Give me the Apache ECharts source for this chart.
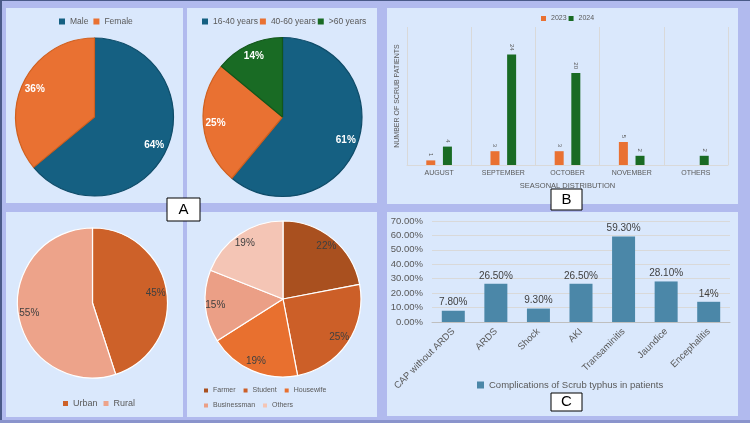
<!DOCTYPE html>
<html>
<head>
<meta charset="utf-8">
<script src="https://cdn.jsdelivr.net/npm/echarts@6/dist/echarts.min.js"></script>
<style>
  html, body { margin: 0; padding: 0; background: #b1baee; }
  #chart { width: 750px; height: 423px; }
</style>
</head>
<body>
<div id="chart"></div>
<script>
// 数据
const sexNames = ['Male', 'Female'];
const sexValues = [64, 36];
const ageNames = ['16-40 years', '40-60 years', '>60 years'];
const ageValues = [61, 25, 14];
const months = ['AUGUST', 'SEPTEMBER', 'OCTOBER', 'NOVEMBER', 'OTHERS'];
const cases2023 = [1, 3, 3, 5, null];
const cases2024 = [4, 24, 20, 2, 2];
const areaNames = ['Urban', 'Rural'];
const areaValues = [45, 55];
const jobNames = ['Farmer', 'Student', 'Housewife', 'Businessman', 'Others'];
const jobValues = [22, 25, 19, 15, 19];
const complications = ['CAP without ARDS', 'ARDS', 'Shock', 'AKI', 'Transaminitis', 'Jaundice', 'Encephalitis'];
const complicationPct = [7.8, 26.5, 9.3, 26.5, 59.3, 28.1, 14];
const complicationLabels = ['7.80%', '26.50%', '9.30%', '26.50%', '59.30%', '28.10%', '14%'];

const FONT = 'Liberation Sans';
const GREY = '#595959';

// 饼图：主体 + 标签层（标签放在外侧约 0.8 半径处）
function makePie(names, values, colors, borders, center, r, r0, labelStyle) {
    const main = {
        type: 'pie',
        center: center,
        radius: [0, r],
        startAngle: 90,
        silent: true,
        label: { show: false },
        labelLine: { show: false },
        data: names.map((n, i) => ({
            name: n,
            value: values[i],
            itemStyle: { color: colors[i], borderColor: borders[i], borderWidth: 1.2 }
        }))
    };
    const labels = {
        type: 'pie',
        center: center,
        radius: [r0, r],
        startAngle: 90,
        silent: true,
        z: 5,
        itemStyle: { color: 'rgba(0,0,0,0)', borderWidth: 0 },
        label: Object.assign({ show: true, position: 'inside', formatter: p => p.value + '%' }, labelStyle),
        labelLine: { show: false },
        data: names.map((n, i) => ({ name: '#' + n, value: values[i] }))
    };
    return [main, labels];
}

function panel(x, y, w, h) {
    return { type: 'rect', z: -10, shape: { x: x, y: y, width: w, height: h }, style: { fill: '#dae8fc' } };
}

function tagBox(x, y, w, h, txt) {
    return {
        type: 'group', z: 100,
        children: [
            { type: 'rect', z: 100, shape: { x: x, y: y, width: w, height: h }, style: { fill: '#fff', stroke: '#000', lineWidth: 1 } },
            { type: 'text', z: 101, style: { x: x + w / 2, y: y + h / 2, text: txt, align: 'center', verticalAlign: 'middle', font: '15px ' + FONT, fill: '#000' } }
        ]
    };
}

// 图例通用样式
function legendCfg(data, left, top, extra, text) {
    return Object.assign({
        data: data, left: left, top: top, padding: 0, icon: 'rect',
        itemStyle: { borderWidth: 0 },
        textStyle: Object.assign({ color: GREY }, text)
    }, extra);
}

const chart = echarts.init(document.getElementById('chart'));

const whiteLabel = { color: '#fff', fontWeight: 'bold', fontSize: 10 };
const darkLabel = { color: '#404040', fontSize: 10 };

const option = {
    animation: false,
    textStyle: { fontFamily: FONT },
    graphic: [
        { type: 'rect', z: -20, shape: { x: 0, y: 0, width: 2, height: 423 }, style: { fill: '#4a5a88' } },
        { type: 'rect', z: -20, shape: { x: 0, y: 0, width: 750, height: 1 }, style: { fill: '#4a5a88' } },
        { type: 'rect', z: -20, shape: { x: 0, y: 420, width: 750, height: 3 }, style: { fill: '#8a94cc' } },
        panel(6, 8, 177, 195),
        panel(187, 8, 190, 195),
        panel(387, 8, 351, 196),
        panel(6, 212, 177, 205),
        panel(187, 212, 190, 205),
        panel(387, 212, 351, 204),
        tagBox(167, 198, 33, 23, 'A'),
        tagBox(551, 189, 31, 21, 'B'),
        tagBox(551, 393, 31, 18, 'C')
    ],
    legend: [
        legendCfg(sexNames, 59, 17, { itemWidth: 6, itemHeight: 6, itemGap: 5 }, { fontSize: 8.5 }),
        legendCfg(ageNames, 202, 17, { itemWidth: 6, itemHeight: 6, itemGap: 2 }, { fontSize: 8.5 }),
        legendCfg(['2023', '2024'], 541, 15, { itemWidth: 5, itemHeight: 5, itemGap: 2 }, { fontSize: 7 }),
        legendCfg(areaNames, 63, 399, { itemWidth: 5, itemHeight: 5, itemGap: 6 }, { fontSize: 9 }),
        legendCfg(jobNames, 204, 387, { width: 175, itemWidth: 4, itemHeight: 4, itemGap: 8 }, { fontSize: 7, width: 40 }),
        legendCfg(['Complications of Scrub typhus in patients'], 477, 380, { itemWidth: 7, itemHeight: 7 }, { fontSize: 9.5 })
    ],
    grid: [
        { left: 407, right: 22, top: 27, bottom: 258 },
        { left: 432, right: 20, top: 221, bottom: 101 }
    ],
    xAxis: [
        {
            gridIndex: 0, type: 'category', data: months,
            axisLine: { lineStyle: { color: '#d9d9d9' } },
            axisTick: { show: false },
            splitLine: { show: true, lineStyle: { color: '#d9d9d9' } },
            axisLabel: { fontSize: 7, color: GREY, margin: 5 },
            name: 'SEASONAL DISTRIBUTION', nameLocation: 'middle', nameGap: 17,
            nameTextStyle: { fontSize: 7.5, color: GREY }
        },
        {
            gridIndex: 1, type: 'category', data: complications,
            axisLine: { lineStyle: { color: '#bfbfbf' } },
            axisTick: { show: false },
            axisLabel: { rotate: 45, interval: 0, fontSize: 9.5, color: GREY, margin: 8 }
        }
    ],
    yAxis: [
        {
            gridIndex: 0, type: 'value', min: 0, max: 30,
            axisLine: { show: false }, axisTick: { show: false }, axisLabel: { show: false }, splitLine: { show: false },
            name: 'NUMBER OF SCRUB PATIENTS', nameLocation: 'middle', nameGap: 6,
            nameTextStyle: { fontSize: 7, color: GREY }
        },
        {
            gridIndex: 1, type: 'value', min: 0, max: 70, interval: 10,
            axisLine: { show: false }, axisTick: { show: false },
            axisLabel: { fontSize: 9.5, color: GREY, margin: 9, formatter: v => v.toFixed(2) + '%' },
            splitLine: { lineStyle: { color: '#d9d9d9' } }
        }
    ],
    series: [
        ...makePie(sexNames, sexValues, ['#156082', '#e97132'], ['#0f4c69', '#d0601f'],
            [94.5, 117], 79, 47, whiteLabel),
        ...makePie(ageNames, ageValues, ['#156082', '#e97132', '#196b24'], ['#0f4c69', '#d0601f', '#12561b'],
            [282.5, 117], 79.5, 49, whiteLabel),
        ...makePie(areaNames, areaValues, ['#cd6129', '#eda38a'], ['#fff', '#fff'],
            [92.5, 303], 75, 47, darkLabel),
        ...makePie(jobNames, jobValues, ['#a9501f', '#cc5f28', '#e8702f', '#eb9f86', '#f4c5b5'],
            ['#fff', '#fff', '#fff', '#fff', '#fff'], [283, 299], 78, 52, darkLabel),
        {
            name: '2023', type: 'bar', xAxisIndex: 0, yAxisIndex: 0, data: cases2023,
            barWidth: 9, barGap: '85%',
            itemStyle: { color: '#e97132' },
            label: { show: true, position: 'top', rotate: -90, align: 'right', verticalAlign: 'middle',
                     distance: 4, fontSize: 6, color: GREY }
        },
        {
            name: '2024', type: 'bar', xAxisIndex: 0, yAxisIndex: 0, data: cases2024,
            barWidth: 9, barGap: '85%',
            itemStyle: { color: '#196b24' },
            label: { show: true, position: 'top', rotate: -90, align: 'right', verticalAlign: 'middle',
                     distance: 4, fontSize: 6, color: GREY }
        },
        {
            name: 'Complications of Scrub typhus in patients', type: 'bar', xAxisIndex: 1, yAxisIndex: 1,
            data: complicationPct, barWidth: 23,
            itemStyle: { color: '#4b87a8' },
            label: { show: true, position: 'top', distance: 3, fontSize: 10, color: '#404040',
                     formatter: p => complicationLabels[p.dataIndex] }
        }
    ]
};

chart.setOption(option);
</script>
</body>
</html>
